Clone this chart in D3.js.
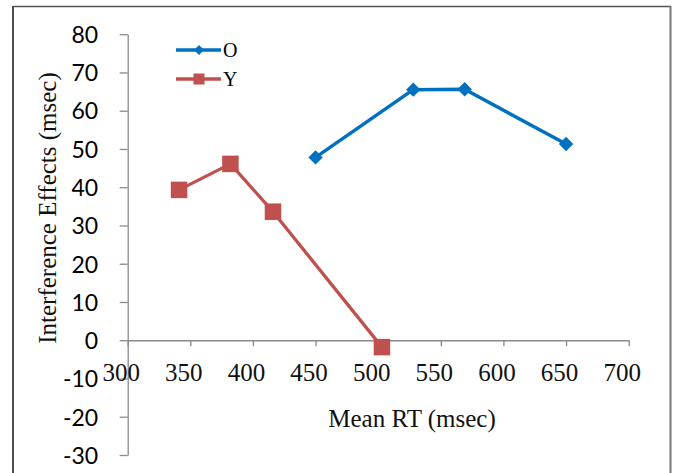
<!DOCTYPE html>
<html>
<head>
<meta charset="utf-8">
<script src="https://cdn.jsdelivr.net/npm/d3@7"></script>
<style>
html,body{margin:0;padding:0;background:#fff;}
svg{display:block;}
</style>
</head>
<body>
<svg id="chart" width="675" height="473"></svg>
<script>
// ---- data ----
const seriesNames = ["O", "Y"];
const oRT  = [450, 528, 569, 650];
const oEff = [47.8, 65.5, 65.6, 51.3];
const yRT  = [341, 382, 416, 503];
const yEff = [39.3, 46.1, 33.6, -1.8];
const xTicks = [300, 350, 400, 450, 500, 550, 600, 650, 700];
const yTicks = [-30, -20, -10, 0, 10, 20, 30, 40, 50, 60, 70, 80];
const xTitle = "Mean RT (msec)";
const yTitle = "Interference Effects (msec)";

const svg = d3.select("#chart");
const x = d3.scaleLinear().domain([300, 700]).range([127.7, 628.7]);
const y = d3.scaleLinear().domain([-30, 80]).range([455, 34.2]);

const axisColor = "#8a8a8a";
const blue = "#0070C0", red = "#C0504D";
const fmt = d => String(d);

// frame
svg.append("line").attr("x1",13).attr("x2",13).attr("y1",6).attr("y2",480).attr("stroke","#222").attr("stroke-width",1.6);
svg.append("line").attr("x1",13).attr("x2",671).attr("y1",6.5).attr("y2",6.5).attr("stroke","#555").attr("stroke-width",1.6);
svg.append("line").attr("x1",670.5).attr("x2",670.5).attr("y1",6).attr("y2",480).attr("stroke","#777").attr("stroke-width",2);

// y axis
const yAxis = d3.axisLeft(y).tickValues(yTicks).tickSize(8).tickSizeOuter(0).tickFormat(fmt);
const gy = svg.append("g").attr("transform", `translate(${x(300)},0)`).call(yAxis);
gy.select(".domain").attr("stroke", axisColor).attr("stroke-width",1.3);
gy.selectAll(".tick line").attr("stroke", axisColor).attr("stroke-width",1.3);
gy.selectAll(".tick text")
  .attr("x", -29.5)
  .attr("dy", "0.36em")
  .attr("fill", "#000")
  .style("font-family", "Lato, 'Open Sans', sans-serif")
  .style("font-size", "23px");

// x axis at y=0
const xAxis = d3.axisBottom(x).tickValues(xTicks).tickSize(6).tickSizeOuter(0).tickFormat(fmt);
const gx = svg.append("g").attr("transform", `translate(0,${y(0)})`).call(xAxis);
gx.select(".domain").attr("stroke", axisColor).attr("stroke-width",1.3);
gx.selectAll(".tick line").attr("stroke", axisColor).attr("stroke-width",1.3);
gx.selectAll(".tick text")
  .attr("x", -7)
  .attr("y", 41)
  .attr("dy", 0)
  .attr("fill", "#111")
  .style("font-family", "'Liberation Serif', 'Times New Roman', serif")
  .style("font-size", "25px");

// titles
svg.append("text")
  .attr("x", 412).attr("y", 427)
  .attr("text-anchor", "middle")
  .attr("fill", "#111")
  .style("font-family", "'Liberation Serif', 'Times New Roman', serif")
  .style("font-size", "25px")
  .text(xTitle);
svg.append("text")
  .attr("transform", "translate(56,208) rotate(-90)")
  .attr("text-anchor", "middle")
  .attr("fill", "#111")
  .style("font-family", "'Liberation Serif', 'Times New Roman', serif")
  .style("font-size", "25px")
  .text(yTitle);

// series
const line = d3.line().x(d => x(d[0])).y(d => y(d[1]));
const oData = oRT.map((v,i) => [v, oEff[i]]);
const yData = yRT.map((v,i) => [v, yEff[i]]);

svg.append("path").datum(oData).attr("d", line).attr("fill","none").attr("stroke", blue).attr("stroke-width",3.5).attr("stroke-linejoin","round");
svg.append("path").datum(yData).attr("d", line).attr("fill","none").attr("stroke", red).attr("stroke-width",3.3).attr("stroke-linejoin","round");

const diamond = r => `M0,${-r}L${r},0L0,${r}L${-r},0Z`;
svg.selectAll(".od").data(oData).enter().append("path")
  .attr("d", diamond(7.2))
  .attr("transform", d => `translate(${x(d[0])},${y(d[1])})`)
  .attr("fill", blue);
const sq = 16.5;
svg.selectAll(".ys").data(yData).enter().append("rect")
  .attr("x", d => x(d[0]) - sq/2).attr("y", d => y(d[1]) - sq/2)
  .attr("width", sq).attr("height", sq)
  .attr("fill", red);

// legend
const legY = [50, 79];
const legColors = [blue, red];
seriesNames.forEach((name, i) => {
  const g = svg.append("g").attr("transform", `translate(0,${legY[i]})`);
  g.append("line").attr("x1",176).attr("x2",221).attr("y1",0).attr("y2",0).attr("stroke",legColors[i]).attr("stroke-width",3.3);
  if (i === 0) {
    g.append("path").attr("d", diamond(5)).attr("transform","translate(199,0)").attr("fill", blue);
  } else {
    g.append("rect").attr("x",193.5).attr("y",-5.5).attr("width",11).attr("height",11).attr("fill", red);
  }
  g.append("text").attr("x",223).attr("y",7)
    .attr("fill","#000")
    .style("font-family", "'Liberation Serif', 'Times New Roman', serif")
    .style("font-size","20px")
    .text(name);
});
</script>
</body>
</html>
